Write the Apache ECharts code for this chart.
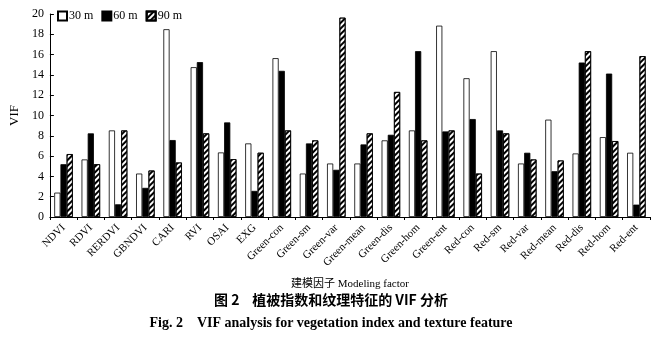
<!DOCTYPE html>
<html><head><meta charset="utf-8">
<script src="https://cdn.jsdelivr.net/npm/echarts@6/dist/echarts.min.js"></script>
<style>html,body{margin:0;padding:0;background:#fff}#c{width:662px;height:337px}</style>
</head><body><div id="c"></div>
<script>
const categories = ["NDVI","RDVI","RERDVI","GBNDVI","CARI","RVI","OSAI","EXG","Green-con","Green-sm","Green-var","Green-mean","Green-dis","Green-hom","Green-ent","Red-con","Red-sm","Red-var","Red-mean","Red-dis","Red-hom","Red-ent"];
const vif30 = [2.4,5.67,8.53,4.28,18.5,14.76,6.36,7.25,15.65,4.28,5.27,5.27,7.55,8.53,18.85,13.67,16.34,5.27,9.59,6.26,7.87,6.33];
const vif60 = [5.2,8.24,1.25,2.87,7.58,15.26,9.32,2.57,14.4,7.25,4.65,7.15,8.1,16.34,8.43,9.65,8.53,6.33,4.51,15.22,14.13,1.22];
const vif90 = [6.2,5.2,8.53,4.58,5.37,8.24,5.7,6.33,8.53,7.55,19.64,8.24,12.32,7.55,8.53,4.28,8.24,5.67,5.57,16.34,7.48,15.85];
const seriesNames = ["30 m","60 m","90 m"];
const yTicks = {min:0,max:20,interval:2};

const serif = '"Liberation Serif","DejaVu Serif",serif';
const hatch = {symbol:'rect',symbolSize:1,dashArrayX:[1,0],dashArrayY:[1.6,1.6],rotation:-Math.PI/4,color:'#000'};

const chart = echarts.init(document.getElementById('c'),null,{renderer:'canvas'});
chart.setOption({
  animation:false,
  backgroundColor:'#fff',
  legend:{
    left:52,top:5,itemWidth:9,itemHeight:9,itemGap:8,icon:'rect',
    textStyle:{fontFamily:serif,fontSize:12,color:'#000',padding:[0,0,0,-3]},
    data:seriesNames
  },
  grid:{left:42,right:12,top:14,bottom:120,containLabel:false},
  xAxis:{
    type:'category',data:categories,
    name:'建模因子 Modeling factor',nameLocation:'middle',nameGap:62,
    nameTextStyle:{fontFamily:'"Liberation Serif","Noto Sans CJK SC",serif',fontSize:11,color:'#000'},
    axisLine:{lineStyle:{color:'#000',width:1}},
    axisTick:{show:true,length:3,lineStyle:{color:'#000'}},
    axisLabel:{rotate:45,interval:0,fontFamily:serif,fontSize:11,color:'#000',margin:9}
  },
  yAxis:{
    type:'value',min:yTicks.min,max:yTicks.max,interval:yTicks.interval,
    name:'VIF',nameLocation:'middle',nameGap:26,nameRotate:90,
    nameTextStyle:{fontFamily:serif,fontSize:13,color:'#000'},
    axisLine:{show:true,lineStyle:{color:'#000',width:1}},
    axisTick:{show:true,inside:true,length:4,lineStyle:{color:'#000'}},
    axisLabel:{fontFamily:serif,fontSize:12,color:'#000',margin:6},
    splitLine:{show:false}
  },
  series:[
    {name:seriesNames[0],type:'bar',data:vif30,barGap:'0%',barCategoryGap:'32%',
     itemStyle:{color:'#fff',borderColor:'#000',borderWidth:0.8}},
    {name:seriesNames[1],type:'bar',data:vif60,
     itemStyle:{color:'#000',borderColor:'#000',borderWidth:0.8}},
    {name:seriesNames[2],type:'bar',data:vif90,
     itemStyle:{color:'#fff',borderColor:'#000',borderWidth:0.8,decal:hatch}}
  ],
  graphic:[
    {type:'text',left:'center',top:293,style:{text:'图 2    植被指数和纹理特征的 VIF 分析',font:'bold 14px "Noto Sans CJK SC",sans-serif',fill:'#000'}},
    {type:'text',left:'center',top:316,style:{text:'Fig. 2    VIF analysis for vegetation index and texture feature',font:'bold 14px "Liberation Serif",serif',fill:'#000'}}
  ]
});
</script></body></html>
